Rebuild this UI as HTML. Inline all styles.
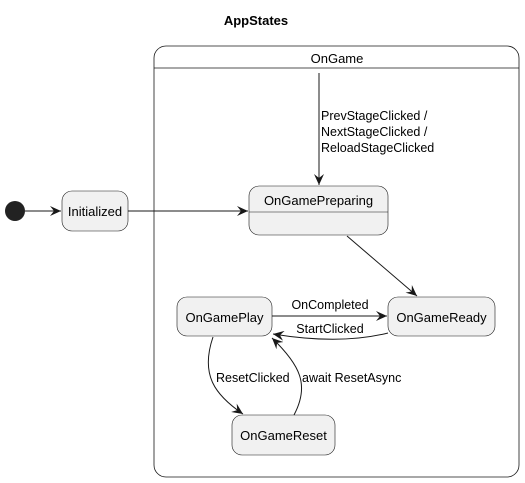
<!DOCTYPE html>
<html><head><style>
html,body{margin:0;padding:0;background:#fff;}
svg{display:block;font-family:"Liberation Sans",sans-serif;}
</style></head><body>
<svg width="525" height="483" viewBox="0 0 525 483" xmlns="http://www.w3.org/2000/svg">
<defs>
<marker id="a" viewBox="0 0 12 10" refX="11" refY="5" markerWidth="12" markerHeight="10" markerUnits="userSpaceOnUse" orient="auto">
<path d="M0,0 L11,5 L0,10 L4,5 Z" fill="#181818"/>
</marker>
</defs>
<text x="256" y="25" font-size="13" font-weight="bold" text-anchor="middle" fill="#000">AppStates</text>
<rect x="154" y="46" width="365" height="431" rx="12" fill="#fff" stroke="#181818" stroke-width="0.8"/>
<line x1="154" y1="68" x2="519" y2="68" stroke="#181818" stroke-width="0.8"/>
<text x="337" y="63" font-size="13" text-anchor="middle">OnGame</text>

<circle cx="15" cy="211" r="10" fill="#222"/>
<line x1="25" y1="211" x2="61" y2="211" stroke="#181818" marker-end="url(#a)"/>
<rect x="62" y="191" width="66" height="40" rx="10" fill="#f1f1f1" stroke="#181818" stroke-width="0.6"/>
<text x="95" y="216" font-size="13" text-anchor="middle">Initialized</text>
<line x1="128" y1="211" x2="248" y2="211" stroke="#181818" marker-end="url(#a)"/>

<line x1="319" y1="73" x2="319" y2="185" stroke="#181818" marker-end="url(#a)"/>
<text x="321" y="120" font-size="12.5">PrevStageClicked /</text>
<text x="321" y="136" font-size="12.5">NextStageClicked /</text>
<text x="321" y="152" font-size="12.5">ReloadStageClicked</text>

<rect x="249" y="186" width="139" height="49" rx="10" fill="#f1f1f1" stroke="#181818" stroke-width="0.6"/>
<line x1="249" y1="212" x2="388" y2="212" stroke="#181818" stroke-width="0.6"/>
<text x="318.5" y="205" font-size="13" text-anchor="middle">OnGamePreparing</text>

<line x1="347" y1="236" x2="417" y2="296" stroke="#181818" marker-end="url(#a)"/>

<rect x="177" y="297" width="95" height="39" rx="10" fill="#f1f1f1" stroke="#181818" stroke-width="0.6"/>
<text x="224.5" y="322" font-size="13" text-anchor="middle">OnGamePlay</text>
<rect x="388" y="297" width="107" height="39" rx="10" fill="#f1f1f1" stroke="#181818" stroke-width="0.6"/>
<text x="441.5" y="322" font-size="13" text-anchor="middle">OnGameReady</text>
<rect x="232" y="415" width="103" height="40" rx="10" fill="#f1f1f1" stroke="#181818" stroke-width="0.6"/>
<text x="283.5" y="440" font-size="13" text-anchor="middle">OnGameReset</text>

<line x1="272" y1="316" x2="387" y2="316" stroke="#181818" marker-end="url(#a)"/>
<text x="330" y="309" font-size="12.5" text-anchor="middle">OnCompleted</text>
<path d="M388,333 Q340,345 273,334" fill="none" stroke="#181818" marker-end="url(#a)"/>
<text x="330" y="333" font-size="12.5" text-anchor="middle">StartClicked</text>

<path d="M213,337 C200,375 215,395 243,414" fill="none" stroke="#181818" marker-end="url(#a)"/>
<text x="216" y="382" font-size="12.5">ResetClicked</text>
<path d="M294,415 C310,385 300,365 272,338" fill="none" stroke="#181818" marker-end="url(#a)"/>
<text x="302" y="382" font-size="12.5">await ResetAsync</text>
</svg>
</body></html>
